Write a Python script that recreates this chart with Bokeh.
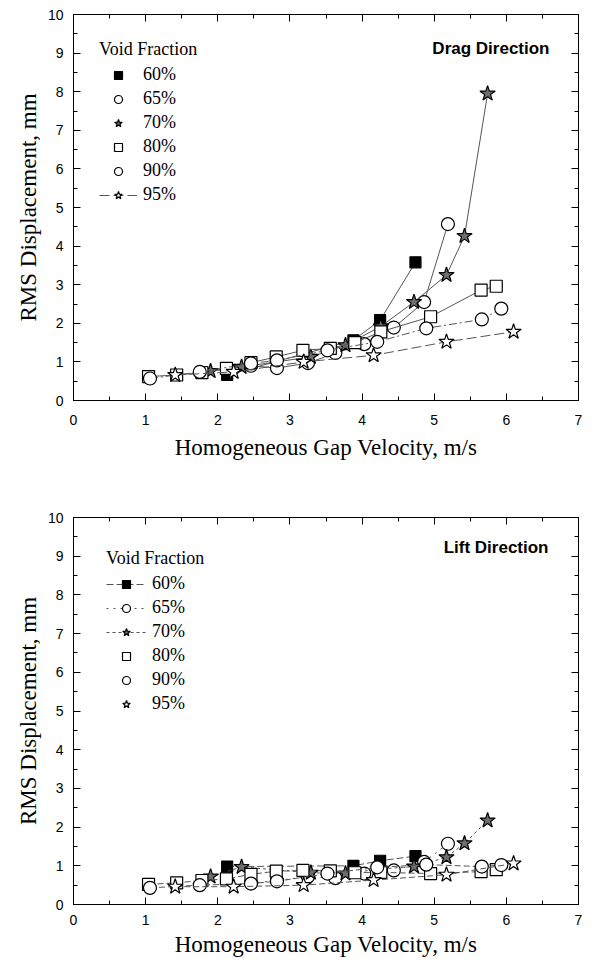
from bokeh.plotting import figure
from bokeh.layouts import column
from bokeh.models import (LinearAxis, SingleIntervalTicker, Range1d, Legend, LegendItem,
                          Label, CustomJSTickFormatter)
from bokeh.embed import file_html
from bokeh.resources import INLINE

# ---------------- data ----------------
void_labels = ["60%", "65%", "70%", "80%", "90%", "95%"]

vel_60 = [2.13, 3.88, 4.25, 4.74]
vel_65 = [2.46, 2.82, 3.25, 3.63, 4.03, 4.44, 4.86, 5.19]
vel_70 = [1.90, 2.33, 3.29, 3.77, 4.26, 4.72, 5.17, 5.42, 5.74]
vel_80 = [1.04, 1.43, 1.78, 2.12, 2.46, 2.81, 3.18, 3.56, 3.90, 4.26, 4.95, 5.65, 5.86]
vel_90 = [1.06, 1.75, 2.46, 2.82, 3.52, 4.21, 4.89, 5.66, 5.93]
vel_95 = [1.41, 2.22, 3.19, 4.16, 5.17, 6.10]

drag_60 = [0.66, 1.56, 2.08, 3.58]
drag_65 = [0.90, 0.84, 0.97, 1.23, 1.46, 1.89, 2.55, 4.57]
drag_70 = [0.76, 0.87, 1.13, 1.43, 1.92, 2.55, 3.25, 4.26, 7.95]
drag_80 = [0.62, 0.66, 0.72, 0.83, 0.98, 1.13, 1.30, 1.35, 1.50, 1.78, 2.17, 2.86, 2.96]
drag_90 = [0.57, 0.74, 0.96, 1.04, 1.30, 1.52, 1.87, 2.10, 2.38]
drag_95 = [0.66, 0.74, 1.00, 1.17, 1.52, 1.78]

lift_60 = [0.98, 1.00, 1.13, 1.25]
lift_65 = [0.55, 0.62, 0.72, 0.68, 0.80, 0.88, 1.10, 1.57]
lift_70 = [0.72, 0.97, 0.82, 0.80, 0.92, 0.98, 1.22, 1.58, 2.17]
lift_80 = [0.52, 0.56, 0.62, 0.66, 0.78, 0.86, 0.88, 0.87, 0.82, 0.83, 0.80, 0.85, 0.90]
lift_90 = [0.43, 0.50, 0.54, 0.60, 0.80, 0.96, 1.03, 0.98, 1.02]
lift_95 = [0.46, 0.46, 0.50, 0.63, 0.77, 1.06]

x_title = "Homogeneous Gap Velocity, m/s"
y_title = "RMS Displacement, mm"
legend_title = "Void Fraction"

SERIF = "Liberation Serif"
SANS = "Liberation Sans"

marker_styles = [
    dict(marker="square", size=11, fill_color="black", line_color="black"),
    dict(marker="circle", size=13, fill_color="white", line_color="black"),
    dict(marker="star", size=16, fill_color="#6e6e6e", line_color="black"),
    dict(marker="square", size=12, fill_color="white", line_color="black"),
    dict(marker="circle", size=13, fill_color="white", line_color="black"),
    dict(marker="star", size=16, fill_color="white", line_color="black"),
]


def style_axis(ax, show_labels=True):
    ax.ticker = SingleIntervalTicker(interval=1, num_minor_ticks=2)
    ax.major_tick_in = 7
    ax.major_tick_out = 0
    ax.minor_tick_in = 4
    ax.minor_tick_out = 0
    ax.axis_line_color = "black"
    ax.major_tick_line_color = "black"
    ax.minor_tick_line_color = "black"
    ax.major_label_text_font = SANS
    ax.major_label_text_font_size = "14px"
    ax.major_label_text_color = "black"
    if not show_labels:
        ax.formatter = CustomJSTickFormatter(code="return ''")
        ax.major_label_standoff = 0


def make_fig(direction, values, top_b, bot_b, tick_standoff, title_standoff,
             legend_loc, glyph_w, line_dashes, legend_lines, label_pos):
    p = figure(width=603, height=481, output_backend="svg", toolbar_location=None,
               x_range=Range1d(0, 7), y_range=Range1d(0, 10),
               min_border_left=73, min_border_right=25,
               min_border_top=top_b, min_border_bottom=bot_b)
    p.grid.visible = False
    p.outline_line_color = "black"
    p.background_fill_color = "white"
    p.border_fill_color = "white"

    style_axis(p.xaxis[0])
    style_axis(p.yaxis[0])
    p.xaxis[0].major_label_standoff = tick_standoff
    p.yaxis[0].major_label_standoff = 10
    p.xaxis.axis_label = x_title
    p.yaxis.axis_label = y_title
    for ax in (p.xaxis[0], p.yaxis[0]):
        ax.axis_label_text_font = SERIF
        ax.axis_label_text_font_size = "23px"
        ax.axis_label_text_font_style = "normal"
        ax.axis_label_text_color = "black"
    p.xaxis[0].axis_label_standoff = title_standoff
    p.yaxis[0].axis_label_standoff = 4

    right = LinearAxis()
    style_axis(right, show_labels=False)
    p.add_layout(right, "right")
    top = LinearAxis()
    style_axis(top, show_labels=False)
    p.add_layout(top, "above")

    vels = [vel_60, vel_65, vel_70, vel_80, vel_90, vel_95]
    items = []
    for i, (v, d) in enumerate(zip(vels, values)):
        lr = p.line(v, d, line_color="#555555", line_width=1, line_dash=line_dashes[i])
        sr = p.scatter(v, d, line_width=1.2, **marker_styles[i])
        rs = [lr, sr] if legend_lines[i] else [sr]
        items.append(LegendItem(label=void_labels[i], renderers=rs))

    leg = Legend(items=items, title=legend_title, location=legend_loc,
                 title_text_font=SERIF, title_text_font_size="18px",
                 title_text_font_style="normal", title_text_color="black",
                 label_text_font=SERIF, label_text_font_size="18px", label_text_color="black",
                 glyph_width=glyph_w, glyph_height=20, label_height=20, spacing=3,
                 label_standoff=6, padding=0, margin=0, title_standoff=4,
                 border_line_color=None, background_fill_alpha=0)
    p.add_layout(leg)

    p.add_layout(Label(x=label_pos[0], y=label_pos[1], x_units="screen", y_units="screen",
                       text=direction, text_font=SANS, text_font_size="17px",
                       text_font_style="bold", text_align="right", text_baseline="middle",
                       text_color="black"))
    return p


p1 = make_fig("Drag Direction", [drag_60, drag_65, drag_70, drag_80, drag_90, drag_95],
              top_b=14, bot_b=81, tick_standoff=14, title_standoff=7,
              legend_loc=(26, 195), glyph_w=38,
              line_dashes=["solid", "solid", "solid", "solid", "8 3 2 3", "10 4"],
              legend_lines=[False, False, False, False, False, True],
              label_pos=(476, 352))

p2 = make_fig("Lift Direction", [lift_60, lift_65, lift_70, lift_80, lift_90, lift_95],
              top_b=36, bot_b=58, tick_standoff=10, title_standoff=4,
              legend_loc=(33, 190), glyph_w=40,
              line_dashes=["7 3", "2 5", "3 3", "6 3", "6 3", "6 3"],
              legend_lines=[True, True, True, False, False, False],
              label_pos=(475, 357))

layout = column(p1, p2, spacing=0)
open("out.html", "w").write(file_html(layout, INLINE))
